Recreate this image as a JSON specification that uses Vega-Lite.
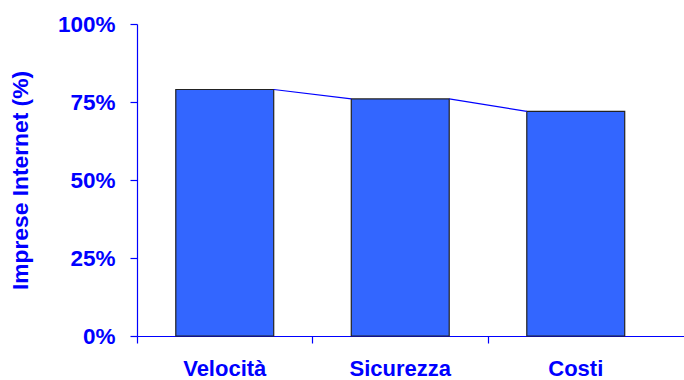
{
  "$schema": "https://vega.github.io/schema/vega-lite/v6.json",
  "width": 547,
  "height": 312,
  "autosize": "none",
  "padding": {"left": 137, "top": 24, "right": 0, "bottom": 44},
  "background": "white",
  "config": {
    "view": {"stroke": null},
    "axis": {
      "labelFont": "Liberation Sans",
      "titleFont": "Liberation Sans",
      "labelFontWeight": "bold",
      "titleFontWeight": "bold",
      "labelColor": "#0000FF",
      "titleColor": "#0000FF",
      "domainColor": "#0000FF",
      "tickColor": "#0000FF",
      "domainWidth": 1.2,
      "tickWidth": 1.2,
      "tickSize": 7,
      "grid": false
    }
  },
  "datasets": {
    "motivi": [
      {"motivo": "Velocità", "quota": 79},
      {"motivo": "Sicurezza", "quota": 76},
      {"motivo": "Costi", "quota": 72}
    ],
    "collegamenti": [
      {"da": "Velocità", "a": "Sicurezza", "quotaDa": 79, "quotaA": 76},
      {"da": "Sicurezza", "a": "Costi", "quotaDa": 76, "quotaA": 72}
    ]
  },
  "layer": [
    {
      "data": {"name": "motivi"},
      "mark": {
        "type": "bar",
        "width": {"band": 0.558},
        "fill": "#3366FF",
        "stroke": "#222222",
        "strokeWidth": 1.2
      },
      "encoding": {
        "x": {
          "field": "motivo",
          "type": "nominal",
          "scale": {
            "domain": ["Velocità", "Sicurezza", "Costi"],
            "paddingInner": 0,
            "paddingOuter": 0.0584,
            "align": 0
          },
          "axis": {
            "title": null,
            "labelAngle": 0,
            "labelFontSize": 22,
            "labelPadding": 15,
            "bandPosition": 0
          }
        },
        "y": {
          "field": "quota",
          "type": "quantitative",
          "scale": {"domain": [0, 100]},
          "axis": {
            "title": "Imprese Internet (%)",
            "values": [0, 25, 50, 75, 100],
            "labelExpr": "datum.value + '%'",
            "labelFontSize": 22.5,
            "titleFontSize": 22.8,
            "labelPadding": 15,
            "titlePadding": 25
          }
        }
      }
    },
    {
      "data": {"name": "collegamenti"},
      "mark": {"type": "rule", "color": "#0000FF", "strokeWidth": 1.1},
      "encoding": {
        "x": {"field": "da", "type": "nominal", "bandPosition": 0.779},
        "x2": {"field": "a", "bandPosition": 0.221},
        "y": {"field": "quotaDa", "type": "quantitative"},
        "y2": {"field": "quotaA"}
      }
    }
  ]
}
